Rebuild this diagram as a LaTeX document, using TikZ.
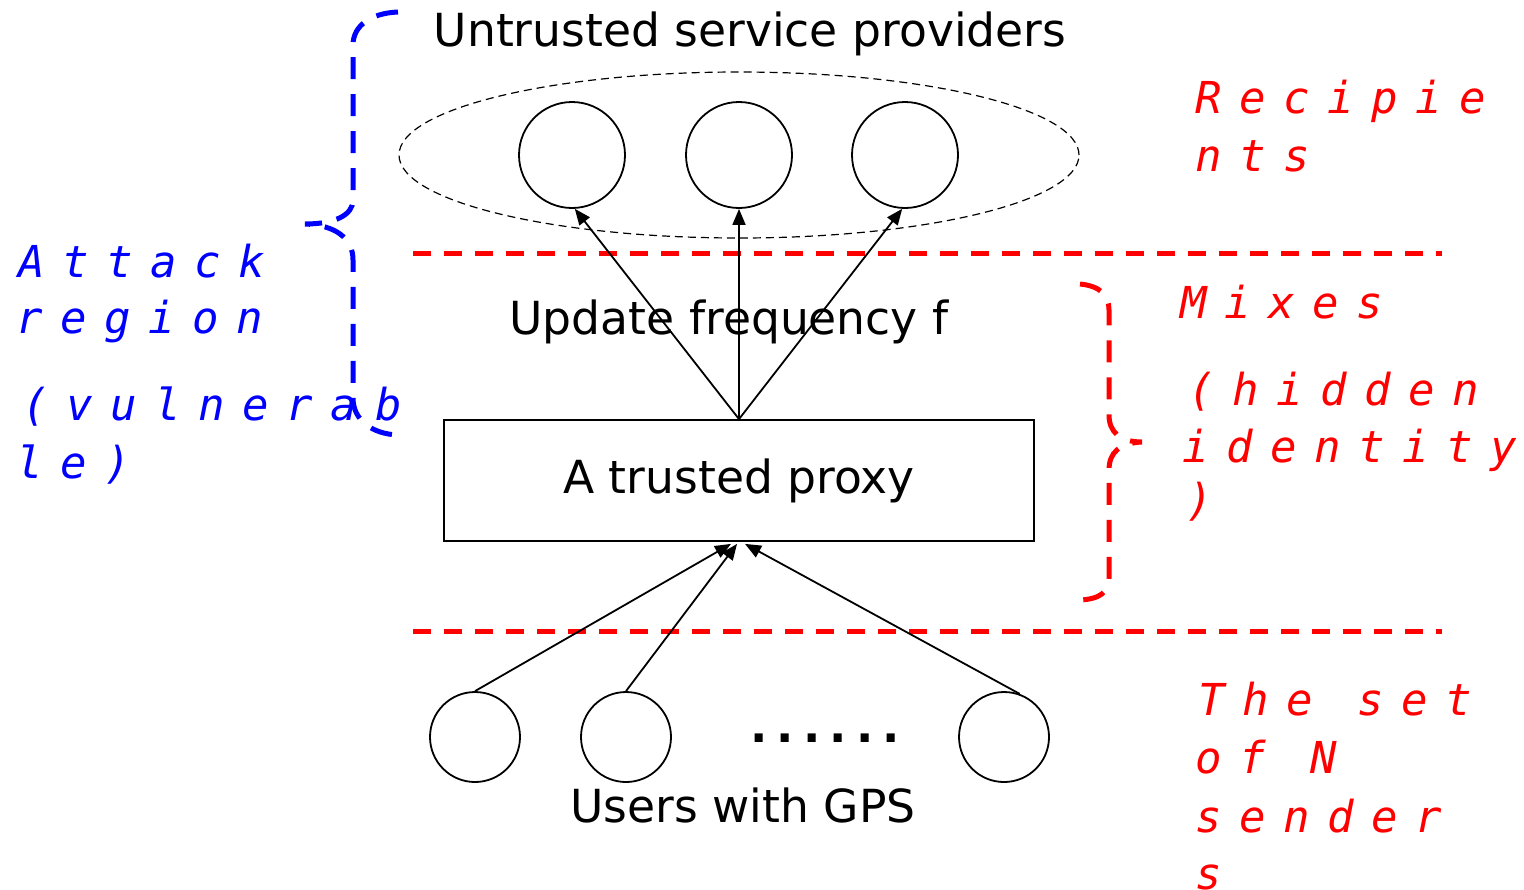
\documentclass[tikz,border=0pt]{standalone}
\usepackage{fontspec}
\setmainfont{DejaVu Sans}
\newfontfamily\monosp{DejaVu Sans Mono}[LetterSpace=40]
\usetikzlibrary{arrows.meta,shapes.geometric}
\tikzset{
  main/.style={font=\fontsize{22.8}{27}\selectfont, inner sep=0pt},
  lab/.style={font=\fontsize{22}{28}\selectfont\monosp\itshape, anchor=base west, inner sep=0pt},
  topc/.style={circle, draw, line width=0.9pt, minimum size=53pt, inner sep=0pt},
  botc/.style={circle, draw, line width=0.9pt, minimum size=45pt, inner sep=0pt},
  arr/.style={line width=0.9pt, -{Triangle[length=8pt,width=6.5pt]}},
  redline/.style={red, line width=2.5pt, dash pattern=on 9pt off 6.5pt},
  bracebl/.style={blue, line width=2.5pt, dash pattern=on 11pt off 7.5pt},
  bracerd/.style={red, line width=2.5pt, dash pattern=on 11pt off 7.5pt},
}
\begin{document}
\begin{tikzpicture}[x=0.5pt,y=-0.5pt]
\useasboundingbox[fill=white] (0,0) rectangle (1524,889);

% ellipse of providers
\node[ellipse, draw, line width=0.6pt, dash pattern=on 4pt off 2.5pt, minimum width=340pt, minimum height=83pt, inner sep=0pt] (ell) at (739,155) {};
\node[topc] (t1) at (572,155) {};
\node[topc] (t2) at (739,155) {};
\node[topc] (t3) at (905,155) {};

\node[main] (title) at (750,34) {Untrusted service providers};

% red separator lines
\coordinate (l1a) at (413,253);
\coordinate (l1b) at (1442,253);
\coordinate (l2a) at (413,631);
\coordinate (l2b) at (1442,631);
\draw[redline] (l1a) -- (l1b);
\draw[redline] (l2a) -- (l2b);

% proxy
\node[draw, line width=0.9pt, minimum width=295pt, minimum height=60.5pt, inner sep=0pt, font=\fontsize{22.8}{27}\selectfont] (proxy) at (739,480.5) {A trusted proxy};

\node[main] (upd) at (729,322) {Update frequency f};

\draw[arr] (proxy.north) -- (t1.-87);
\draw[arr] (proxy.north) -- (t2.south);
\draw[arr] (proxy.north) -- (t3.-93);

% users
\node[botc] (u1) at (475,737) {};
\node[botc] (u2) at (626,737) {};
\node[botc] (u3) at (1004,737) {};
\node[main, font=\fontsize{22.8}{27}\selectfont\bfseries] (dots) at (825,738) {.\hspace{4.6pt}.\hspace{4.6pt}.\hspace{4.6pt}.\hspace{4.6pt}.\hspace{4.6pt}.};
\node[main] (users) at (743,805) {Users with GPS};

\coordinate (p1) at ([xshift=-4pt,yshift=-1pt]proxy.south);
\coordinate (p2) at ([xshift=-1pt,yshift=-1pt]proxy.south);
\coordinate (p3) at ([xshift=3pt,yshift=-1pt]proxy.south);
\draw[arr] (u1.north) -- (p1);
\draw[arr] (u2.north) -- (p2);
\draw[arr] (u3.70) -- (p3);

% blue brace
\draw[bracebl] (398,12) .. controls (372,13) and (353,25) .. (353,45) -- (353,200)
  .. controls (353,215) and (335,224) .. (305,224)
  .. controls (335,225) and (353,238) .. (353,260) -- (353,398)
  .. controls (353,420) and (372,434) .. (398,435);

% red brace
\draw[bracerd] (1080,284) .. controls (1100,286) and (1109,295) .. (1109,310) -- (1109,415)
  .. controls (1109,432) and (1120,442) .. (1142,442)
  .. controls (1120,443) and (1109,452) .. (1109,470) -- (1109,578)
  .. controls (1109,592) and (1100,599) .. (1080,600);

% labels
\node[lab, blue] (a1) at (18,277) {Attack};
\node[lab, blue] (a2) at (16,333) {region};
\node[lab, blue] (a3) at (22,420) {(vulnerab};
\node[lab, blue] (a4) at (16,478) {le)};

\node[lab, red] (r1) at (1195,113) {Recipie};
\node[lab, red] (r2) at (1195,171) {nts};

\node[lab, red] (m1) at (1180,318) {Mixes};
\node[lab, red] (m2) at (1188,405) {(hidden};
\node[lab, red] (m3) at (1182,462) {identity};
\node[lab, red] (m4) at (1186,515) {)};

\node[lab, red] (s1) at (1198,715) {The set};
\node[lab, red] (s2) at (1195,773) {of N};
\node[lab, red] (s3) at (1195,832) {sender};
\node[lab, red] (s4) at (1195,889) {s};
\end{tikzpicture}
\end{document}
